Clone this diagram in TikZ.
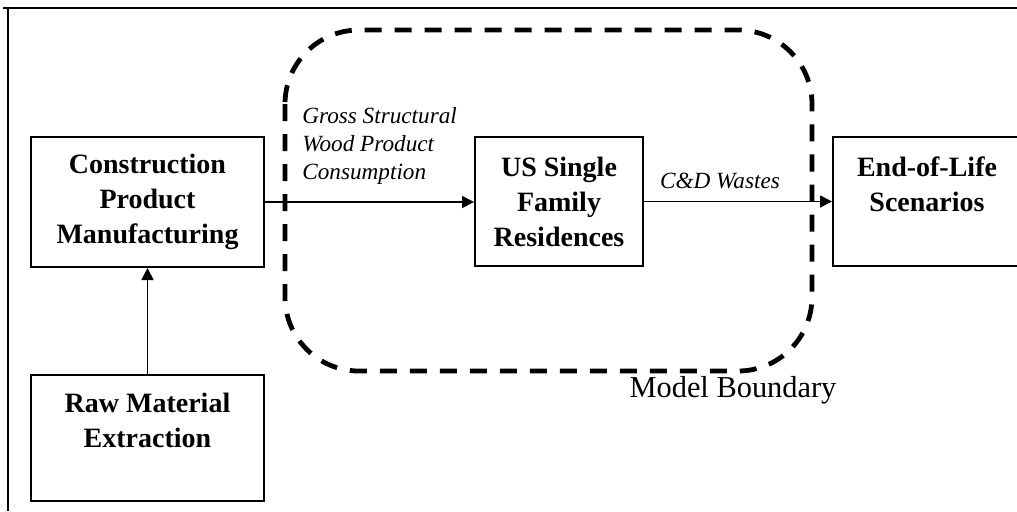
\documentclass[tikz,border=0pt]{standalone}
\usepackage{fontspec}
\setmainfont{Liberation Serif}
\usetikzlibrary{arrows.meta}
\tikzset{
  boxnode/.style={draw, line width=1pt, align=center, inner sep=0pt,
    font=\fontsize{14}{17.5}\selectfont\bfseries},
  arr/.style={line width=0.9pt, -{Triangle[length=6pt,width=6pt]}},
  flowlabel/.style={font=\fontsize{11.6}{14}\selectfont\itshape, align=left, inner sep=0pt},
  boundary/.style={line width=2.4pt, dash pattern=on 8.5pt off 6.5pt, rounded corners=37pt},
  frameline/.style={line width=1pt}
}
\begin{document}
\begin{tikzpicture}[x=0.5pt,y=-0.5pt]
\useasboundingbox (0,0) rectangle (1017,511);
% outer frame (top and left only)
\draw[frameline] (3,8) -- (1017,8);
\draw[frameline] (8,8) -- (8,511);
% model boundary
\draw[boundary] (285,30) rectangle (812,371);
% boxes
\node[boxnode, minimum width=116.5pt, minimum height=65pt] (cpm) at (147.5,202)
  {Construction\\Product\\Manufacturing};
\node[boxnode, minimum width=116.5pt, minimum height=63pt] (raw) at (147.5,438)
  {Raw Material\\Extraction\\\mbox{}};
\node[boxnode, minimum width=84pt, minimum height=64.5pt] (us) at (559,201.5)
  {US Single\\Family\\Residences};
\node[boxnode, minimum width=94pt, minimum height=64.5pt] (eol) at (927,201.5)
  {End-of-Life\\Scenarios\\\mbox{}};
% connectors
\draw[arr] (raw.north) -- (cpm.south);
\draw[arr] (cpm.east) -- (cpm.east -| us.west);
\draw[arr] (us.east) -- (us.east -| eol.west);
% labels
\node[flowlabel, anchor=north west] (gross) at (302,107)
  {Gross Structural\\Wood Product\\Consumption};
\node[flowlabel] (cdw) at (720,181) {C\&D Wastes};
\node[font=\fontsize{15.2}{18}\selectfont, inner sep=0pt] (mb) at (733,390) {Model Boundary};
\end{tikzpicture}
\end{document}
